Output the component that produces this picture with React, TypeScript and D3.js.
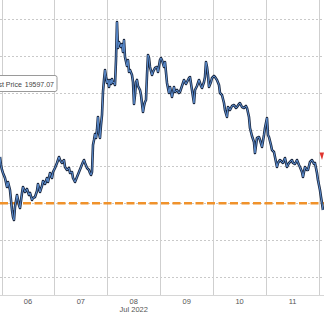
import React from "react";
import * as d3 from "d3";

const W = 324;
const H = 313;

// hours since 2022-07-06 00:00 UTC
const hours = [
  -0.68, -0.23, 0.23, 0.68, 1.59, 2.49, 2.95, 3.85, 4.76, 5.22, 5.67, 6.12, 7.03, 7.94, 8.39, 9.3, 9.75,
  10.66, 11.56, 12.47, 12.93, 13.83, 14.29, 15.19, 16.1, 16.55, 17.46, 18.37, 18.82, 19.73, 20.63, 21.09,
  22.0, 22.9, 23.36, 24.26, 25.17, 26.08, 26.53, 27.44, 28.34, 28.8, 29.7, 30.61, 31.07, 31.97, 32.43,
  33.33, 34.24, 35.15, 36.05, 36.96, 37.41, 37.87, 38.78, 39.68, 40.14, 40.59, 41.04, 41.5, 41.95, 42.4,
  42.86, 43.31, 43.76, 44.22, 44.67, 45.12, 45.58, 46.03, 46.49, 46.94, 47.39, 47.85, 48.3, 48.75, 49.21,
  49.66, 50.11, 50.57, 51.02, 51.47, 51.93, 52.38, 52.83, 53.29, 54.19, 54.65, 55.1, 55.56, 56.01, 56.92,
  57.37, 57.82, 58.28, 59.18, 59.64, 60.09, 60.54, 61.0, 61.45, 61.9, 62.81, 63.27, 64.17, 64.63, 65.08,
  65.53, 65.99, 66.44, 66.89, 67.35, 68.25, 68.71, 69.61, 70.52, 70.98, 71.88, 72.33, 72.79, 73.7, 74.15,
  75.06, 75.96, 76.42, 77.32, 78.23, 78.68, 79.59, 80.5, 80.95, 81.86, 82.77, 83.67, 84.13, 85.03, 85.49,
  86.39, 87.3, 87.76, 88.66, 89.57, 90.48, 90.93, 91.84, 92.29, 92.74, 93.2, 93.65, 94.1, 95.01, 95.47,
  96.37, 96.83, 97.73, 98.64, 99.09, 100.0, 100.91, 101.36, 102.27, 102.72, 103.63, 104.54, 105.44, 106.35,
  106.8, 107.71, 108.16, 109.07, 109.98, 110.88, 111.34, 112.24, 112.7, 113.6, 114.51, 114.96, 115.87,
  116.78, 117.23, 118.14, 119.05, 119.5, 120.41, 120.86, 121.31, 122.22, 122.68, 123.58, 124.04, 124.94,
  125.4, 126.3, 127.21, 127.66, 128.57, 129.48, 130.38, 130.84, 131.74, 132.2, 133.1, 134.01, 134.92,
  135.37, 136.28, 136.73, 137.64, 138.54, 139.0, 139.91, 140.81, 141.72, 142.17, 143.08, 143.53, 144.44,
  144.9, 145.35, 145.8,
];

const prices = [
  20628, 20519, 20452, 20411, 20343, 20221, 20289, 20180, 19909, 19814, 19773, 19950, 20112, 19977, 19936, 20140, 20221,
  20153, 20194, 20112, 20140, 20045, 20072, 20085, 20167, 20262, 20153, 20235, 20302, 20262, 20343, 20289,
  20411, 20343, 20424, 20479, 20547, 20628, 20587, 20547, 20587, 20492, 20452, 20479, 20411, 20424, 20343,
  20289, 20357, 20424, 20492, 20560, 20587, 20547, 20479, 20452, 20411, 20384, 20424, 20791, 20859, 20940,
  20886, 20994, 21171, 20954, 20886, 21062, 21198, 21510, 21673, 21808, 21713, 21632, 21673, 21578, 21673,
  21618, 21686, 21632, 21645, 21605, 21944, 22459, 22107, 22188, 22120, 22161, 22052, 22215, 21985, 21862,
  21944, 21781, 21808, 21740, 21645, 21347, 21469, 21645, 21673, 21591, 21537, 21469, 21238, 21320, 21374,
  21401, 21740, 22012, 21971, 21849, 21740, 21781, 21835, 21849, 21781, 21944, 21971, 21944, 21849, 21917,
  21632, 21496, 21578, 21442, 21578, 21510, 21537, 21496, 21510, 21591, 21673, 21618, 21645, 21700, 21713,
  21537, 21360, 21537, 21591, 21673, 21591, 21564, 21645, 21713, 21917, 21849, 21740, 21578, 21645, 21700,
  21727, 21713, 21673, 21605, 21496, 21469, 21360, 21265, 21171, 21306, 21265, 21320, 21333, 21293,
  21306, 21347, 21360, 21306, 21293, 21320, 21293, 21171, 21021, 20913, 20831, 20682, 20886,
  20899, 20859, 20764, 20926, 21021, 21157, 20926, 20899, 20791, 20723, 20696, 20628, 20492,
  20547, 20587, 20560, 20547, 20614, 20492, 20547, 20560, 20587, 20547, 20533, 20587, 20519,
  20492, 20424, 20357, 20492, 20452, 20452, 20560, 20587, 20533, 20547, 20411, 20316, 20180,
  20085, 20004, 19909,
];

const gridValues = [19000, 19500, 20000, 20500, 21000, 21500, 22000, 22500];
const dayLabels = ["06", "07", "08", "09", "10", "11"];
const monthLabel = "Jul 2022";
const lastPriceLabel = "Last Price";
const lastPriceValue = "19597.07";
const referenceLevel = 20000;

const BASE = Date.UTC(2022, 6, 6);

export default function App() {
  const x = d3
    .scaleUtc()
    .domain([new Date(BASE), new Date(Date.UTC(2022, 6, 12))])
    .range([1.5, 319]);
  const y = d3.scaleLinear().domain([19000, 22500]).range([277, 19]);

  const data = hours.map((h, i) => ({ t: new Date(BASE + h * 3600000), v: prices[i] }));
  const line = d3
    .line<{ t: Date; v: number }>()
    .x((d) => x(d.t))
    .y((d) => y(d.v));
  const path = line(data) || "";

  const days = d3.utcDay.range(new Date(BASE), new Date(Date.UTC(2022, 6, 12, 1)));
  const axisY = 295;
  const font = "'Liberation Sans', Arial, sans-serif";

  return (
    <svg
      width={W}
      height={H}
      style={{ position: "absolute", left: 0, top: 0, background: "#fff" }}
    >
      <rect x={0} y={0} width={W} height={H} fill="#fff" />
      {gridValues.map((g) => (
        <line
          key={g}
          x1={0}
          x2={W}
          y1={Math.round(y(g)) + 0.5}
          y2={Math.round(y(g)) + 0.5}
          stroke="#c9c9c9"
          strokeWidth={1}
          strokeDasharray="2,2"
        />
      ))}
      {days.map((d) => (
        <line
          key={d.getTime()}
          x1={Math.round(x(d)) + 0.5}
          x2={Math.round(x(d)) + 0.5}
          y1={0}
          y2={axisY}
          stroke="#cfcfcf"
          strokeWidth={1}
        />
      ))}
      <line x1={0} x2={W} y1={axisY + 0.5} y2={axisY + 0.5} stroke="#d6d6d6" strokeWidth={1} />
      {dayLabels.map((lab, i) => {
        const mid = new Date(BASE + (i + 0.5) * 86400000);
        return (
          <text
            key={lab}
            x={x(mid)}
            y={304}
            textAnchor="middle"
            fontFamily={font}
            fontSize={7.5}
            fill="#555"
          >
            {lab}
          </text>
        );
      })}
      <text
        x={x(new Date(BASE + 2.5 * 86400000))}
        y={311.5}
        textAnchor="middle"
        fontFamily={font}
        fontSize={7.5}
        fill="#555"
      >
        {monthLabel}
      </text>

      <line
        x1={0}
        x2={W}
        y1={y(referenceLevel)}
        y2={y(referenceLevel)}
        stroke="#f0922b"
        strokeWidth={2.6}
        strokeDasharray="8,3.5"
      />

      <path d={path} fill="none" stroke="#1b2840" strokeWidth={2.6} strokeLinejoin="round" />
      <path d={path} fill="none" stroke="#5a8ccf" strokeWidth={1} strokeLinejoin="round" />

      <path d="M319.5,152.5 L324,152.5 L322,160 Z" fill="#e0352f" />

      <rect x={-10} y={75.5} width={67} height={16} rx={2} fill="#fff" stroke="#9a9a9a" strokeWidth={1} />
      <text x={54} y={86.5} textAnchor="end" fontFamily={font} fontSize={7} fill="#444">
        <tspan>{lastPriceLabel}</tspan>
        <tspan dx={3}>{lastPriceValue}</tspan>
      </text>
    </svg>
  );
}
